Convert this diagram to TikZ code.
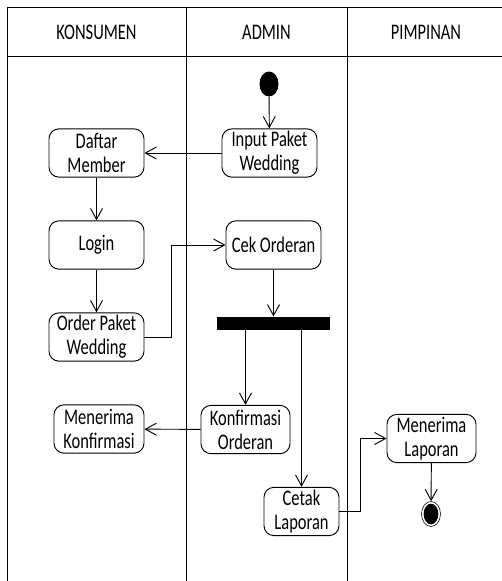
\documentclass[tikz,border=0pt]{standalone}
\usepackage{fontspec}
\setmainfont{Carlito}[FakeStretch=0.74]
\usetikzlibrary{arrows.meta,shapes.geometric}

\begin{document}
\begin{tikzpicture}[x=0.3mm,y=-0.3mm,line width=0.8pt,>={Straight Barb[length=3.3mm,width=3.6mm]},
  font=\fontsize{19}{20.5}\selectfont,
  act/.style={draw,rounded corners=3mm,align=center,minimum height=14.5mm,inner sep=2pt},
  dot/.style={ellipse,fill,minimum width=5.7mm,minimum height=7.5mm,inner sep=0pt},
  enddot/.style={ellipse,draw,line width=0.5pt,minimum width=5.7mm,minimum height=7.5mm,inner sep=0pt,
    path picture={\fill (path picture bounding box.center) ellipse (2.2mm and 3.1mm);}}]
\useasboundingbox (0,0) rectangle (502,581);
% swimlanes
\draw (7,7) -- (502,7);
\draw (7,56) -- (502,56);
\draw (7,7) -- (7,581);
\draw (186,7) -- (186,581);
\draw (347,7) -- (347,581);
\node (konsumen) at (96.5,32.5) {KONSUMEN};
\node (admin) at (266.5,32.5) {ADMIN};
\node (pimpinan) at (426,32.5) {PIMPINAN};
% activities
\node[dot] (start) at (269,84) {};
\node[act,minimum width=28.5mm] (input) at (269.5,153) {Input Paket\\Wedding};
\node[act,minimum width=28.5mm] (daftar) at (96.5,153) {Daftar\\Member};
\node[act,minimum width=28.5mm] (login) at (96.5,245) {Login};
\node[act,minimum width=28.5mm] (cek) at (273.5,245) {Cek Orderan};
\node[act,minimum width=28.5mm] (order) at (96.5,337) {Order Paket\\Wedding};
\node[fill,minimum width=33.9mm,minimum height=3.9mm,inner sep=0pt] (bar) at (273.5,323.5) {};
\node[act,minimum width=26.7mm] (konfirmasi) at (245.5,429.5) {Konfirmasi\\Orderan};
\node[act,minimum width=27mm] (terima) at (99,429) {Menerima\\Konfirmasi};
\node[act,minimum width=22.5mm] (cetak) at (301.5,511.5) {Cetak\\Laporan};
\node[act,minimum width=26.7mm] (laporan) at (431.5,438.5) {Menerima\\Laporan};
\node[enddot] (end) at (431,514) {};
% flow
\draw[->] (start) -- (input);
\draw[->] (input) -- (daftar);
\draw[->] (daftar) -- (login);
\draw[->] (login) -- (order);
\draw[->] (order.east) -- ++(27,0) |- (cek.west);
\draw[->] (cek) -- (bar);
\draw[->] (bar.south -| konfirmasi.north) -- (konfirmasi.north);
\draw[->] (bar.south -| cetak.north) -- (cetak.north);
\draw[->] (konfirmasi) -- (terima);
\draw[->] (cetak.east) -- ++(21,0) |- (laporan.west);
\draw[->] (laporan) -- (end);
\end{tikzpicture}
\end{document}
